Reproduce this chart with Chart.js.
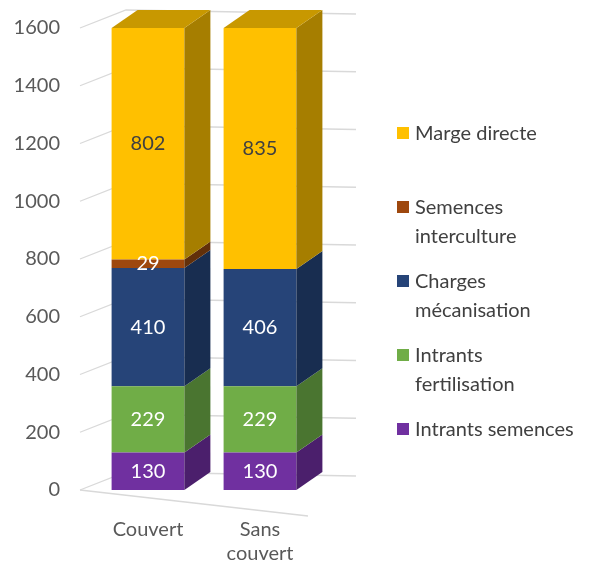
<!DOCTYPE html>
<html lang="fr">
<head>
  <meta charset="UTF-8">
  <title>Marge directe</title>
  <script src="https://cdn.jsdelivr.net/npm/chart.js"></script>
  <style>
    body { margin: 0; background: #fff; }
    #wrap { position: relative; width: 595px; height: 585px; }
    #legende { position: absolute; left: 397px; top: 118px; font: 20px Lato, sans-serif; color: #404040; }
    .item { display: flex; align-items: flex-start; height: 74px; line-height: 29px; }
    .item span.carre { width: 12px; height: 12px; margin-top: 9px; margin-right: 6px; flex: none; }
  </style>
</head>
<body>
  <div id="wrap">
    <canvas id="graphique" width="595" height="585"></canvas>
    <div id="legende"></div>
  </div>
  <script>
    // données
    const categories = [['Couvert'], ['Sans', 'couvert']];
    const postes = [['Intrants semences'], ['Intrants', 'fertilisation'], ['Charges', 'mécanisation'], ['Semences', 'interculture'], ['Marge directe']];
    const intrantsSemences = [130, 130];
    const intrantsFertilisation = [229, 229];
    const chargesMecanisation = [410, 406];
    const semencesInterculture = [29, 0];
    const margeDirecte = [802, 835];
    const graduations = [0, 200, 400, 600, 800, 1000, 1200, 1400, 1600];

    const faces = ['#7030A0', '#70AD47', '#264478', '#9E480E', '#FFC000'];
    const cotes = ['#4B1F6C', '#4A7530', '#182D50', '#62300A', '#A67E00'];
    const dessus = ['#5A2882', '#5A8C3A', '#1F3862', '#7A3A0C', '#C89800'];
    const texteValeur = ['#fff', '#fff', '#fff', '#fff', '#404040'];
    const series = [intrantsSemences, intrantsFertilisation, chargesMecanisation, semencesInterculture, margeDirecte];

    const DX = 26, DY = -18;

    // murs et quadrillage en pseudo 3D
    const quadrillage = {
      id: 'quadrillage',
      beforeDatasetsDraw(chart) {
        const { ctx, chartArea, scales } = chart;
        ctx.save();
        ctx.strokeStyle = '#D9D9D9';
        ctx.lineWidth = 1.3;
        graduations.forEach(v => {
          const y = scales.y.getPixelForValue(v);
          ctx.beginPath();
          ctx.moveTo(chartArea.left - 12, y);
          ctx.lineTo(chartArea.left + DX + 8, y + DY);
          ctx.lineTo(chartArea.right + DX + 14, y + DY + 4);
          ctx.stroke();
        });
        // bord avant du sol
        const y0 = scales.y.getPixelForValue(0);
        ctx.beginPath();
        ctx.moveTo(chartArea.left - 12, y0);
        ctx.lineTo(chartArea.right - 8, y0 + 26);
        ctx.stroke();
        ctx.restore();
      }
    };

    const volumes = {
      id: 'volumes',
      afterDatasetsDraw(chart) {
        const ctx = chart.ctx;
        ctx.save();
        const n = chart.data.labels.length;
        for (let i = 0; i < n; i++) {
          let dernier = -1;
          chart.data.datasets.forEach((ds, d) => {
            if (ds.data[i] > 0) dernier = d;
          });
          chart.data.datasets.forEach((ds, d) => {
            if (!(ds.data[i] > 0)) return;
            const bar = chart.getDatasetMeta(d).data[i];
            const g = bar.x - bar.width / 2, dr = bar.x + bar.width / 2;
            ctx.fillStyle = cotes[d];
            ctx.beginPath();
            ctx.moveTo(dr, bar.y);
            ctx.lineTo(dr + DX, bar.y + DY);
            ctx.lineTo(dr + DX, bar.base + DY);
            ctx.lineTo(dr, bar.base);
            ctx.closePath();
            ctx.fill();
            if (d === dernier) {
              ctx.fillStyle = dessus[d];
              ctx.beginPath();
              ctx.moveTo(g, bar.y);
              ctx.lineTo(g + DX, bar.y + DY);
              ctx.lineTo(dr + DX, bar.y + DY);
              ctx.lineTo(dr, bar.y);
              ctx.closePath();
              ctx.fill();
            }
            ctx.fillStyle = texteValeur[d];
            ctx.font = '20px Lato, sans-serif';
            ctx.textAlign = 'center';
            ctx.textBaseline = 'middle';
            ctx.fillText(String(ds.data[i]), bar.x, (bar.y + bar.base) / 2);
          });
        }
        ctx.restore();
      }
    };

    new Chart(document.getElementById('graphique'), {
      type: 'bar',
      data: {
        labels: categories,
        datasets: series.map((s, d) => ({
          label: postes[d].join(' '),
          data: s,
          backgroundColor: faces[d],
          borderWidth: 0,
          barPercentage: 1,
          categoryPercentage: 0.65
        }))
      },
      options: {
        responsive: false,
        animation: false,
        layout: { padding: { top: 28, right: 279, left: 0, bottom: 0 } },
        plugins: { legend: { display: false }, tooltip: { enabled: false } },
        scales: {
          x: {
            stacked: true,
            grid: { display: false, drawTicks: false },
            border: { display: false },
            ticks: { color: '#595959', font: { family: 'Lato', size: 20 }, padding: 28, maxRotation: 0 },
            afterFit(scale) { scale.height = 95; }
          },
          y: {
            stacked: true,
            min: 0,
            max: 1600,
            grid: { display: false, drawTicks: false },
            border: { display: false },
            ticks: { stepSize: 200, color: '#595959', font: { family: 'Lato', size: 20 }, padding: 32, callback: v => String(v) },
            afterFit(scale) {
              scale.width = 92;
              scale.paddingTop = 0;
              scale.paddingBottom = 0;
            }
          }
        }
      },
      plugins: [quadrillage, volumes]
    });

    // légende à droite, ordre inversé comme dans Excel
    const legende = document.getElementById('legende');
    for (let d = postes.length - 1; d >= 0; d--) {
      const item = document.createElement('div');
      item.className = 'item';
      item.innerHTML = '<span class="carre" style="background:' + faces[d] + '"></span><span>' + postes[d].join('<br>') + '</span>';
      legende.appendChild(item);
    }
  </script>
</body>
</html>
